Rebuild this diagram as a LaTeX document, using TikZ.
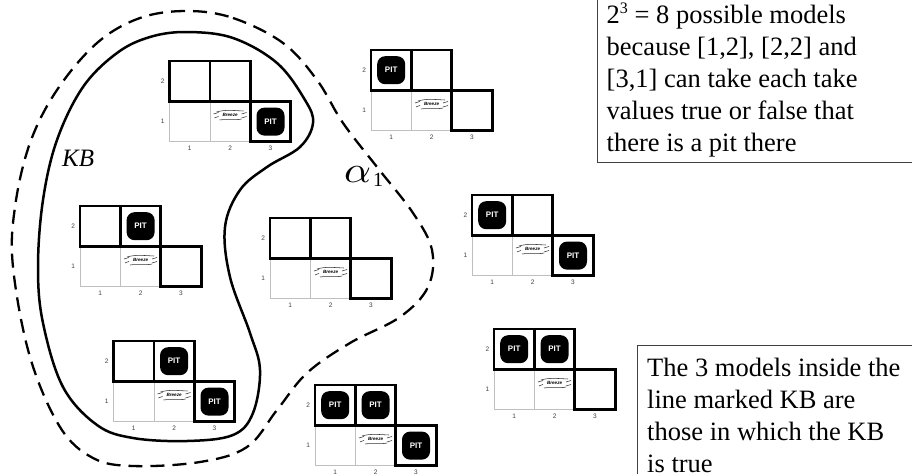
\documentclass[tikz,border=0pt]{standalone}
\usepackage{graphicx}
\usepackage{fontspec}
\setmainfont{Liberation Serif}
\setsansfont{Liberation Sans}
\tikzset{
  x=1pt,y=-1pt,
  thincell/.style={draw=black!25,line width=0.8pt},
  boldcell/.style={draw=black,line width=2.7pt,line join=miter},
  pit/.style={fill=black,rounded corners=8pt,minimum size=28pt,inner sep=0pt,text=white,font=\sffamily\bfseries\fontsize{8}{8}\selectfont},
  axis/.style={inner sep=0pt,text=black!75,font=\sffamily\fontsize{6.5}{6.5}\selectfont},
  breezetxt/.style={inner sep=0pt,font=\sffamily\bfseries\itshape\fontsize{4.6}{5}\selectfont},
  wave/.style={draw=black!80,line width=0.55pt},
  kbline/.style={draw=black,line width=2.5pt},
  alphaline/.style={draw=black,line width=2.3pt,dash pattern=on 14pt off 8pt},
  boxline/.style={draw=black!75,line width=1pt},
  note/.style={inner sep=0pt,anchor=north west,align=left,font=\fontsize{26.5}{32}\selectfont},
}
% #1 name, #2 x, #3 y, #4 pit list
\newcommand{\wumpusworld}[4]{%
\begin{scope}[shift={(#2,#3)},name prefix=#1-]
  \draw[thincell] (0,40.4) rectangle (80.8,80.8) (40.4,40.4) -- (40.4,80.8);
  \foreach \cx/\cy/\cn in {0/0/a,40.4/0/b,80.8/40.4/c}
    \draw[boldcell] (\cx,\cy) rectangle ++(40.4,40.4);
  \foreach \n/\tx/\ty/\tt in {r2/-6.7/20.2/2,r1/-6.7/60.6/1,c1/20.2/87/1,c2/60.6/87/2,c3/101/87/3}
    \node[axis] (\n) at (\tx,\ty) {\tt};
  \node[breezetxt] (br) at (60.6,54) {Breeze};
  \draw[wave] (44,53) .. controls (46,51.5) and (47,53) .. (49,51.5) (45,57) .. controls (46,55.5) and (47,57) .. (49,55.5);
  \draw[wave] (72,53) .. controls (74,51.5) and (75,53) .. (77,51.5) (72,57) .. controls (74,55.5) and (75,57) .. (77,55.5);
  \draw[wave] (47,51) .. controls (55,48.5) and (64,49.5) .. (74,50);
  \draw[wave] (50,59) .. controls (55,58) and (66,59.5) .. (72,58);
  \foreach \p/\px/\py in {#4}
    \node[pit] (\p) at (\px,\py) {PIT};
\end{scope}}
\begin{document}
\begin{tikzpicture}
\useasboundingbox (0,0) rectangle (912,474);
\draw[kbline] plot[smooth cycle,tension=0.6] coordinates {(187,32) (233,38) (277,63) (305,100) (313,123) (300,147) (267,167) (240,190) (225,227) (230,277) (250,333) (260,370) (253,413) (233,435) (187,441) (133,438) (97,425) (63,387) (43,323) (38,267) (43,200) (57,140) (83,87) (117,53) (150,37)};
\draw[alphaline] plot[smooth cycle,tension=0.6] coordinates {(187,11) (233,18) (283,43) (317,80) (343,123) (377,167) (413,213) (432,250) (428,287) (400,317) (350,343) (307,373) (277,410) (247,447) (200,462) (133,466) (93,458) (60,427) (30,357) (13,267) (15,207) (30,143) (57,90) (97,43) (140,18)};
\wumpusworld{wa}{169.5}{61}{p31/101/60.6}
\wumpusworld{wb}{371}{50}{p12/20.2/20.2}
\wumpusworld{wc}{80}{206}{p22/60.6/20.2}
\wumpusworld{wd}{270}{218}{}
\wumpusworld{we}{113.5}{341}{p22/60.6/20.2,p31/101/60.6}
\wumpusworld{wf}{315}{385}{p12/20.2/20.2,p22/60.6/20.2,p31/101/60.6}
\wumpusworld{wg}{472}{195}{p12/20.2/20.2,p31/101/60.6}
\wumpusworld{wh}{494}{329}{p12/20.2/20.2,p22/60.6/20.2}
\node[inner sep=0pt,anchor=base west,font=\itshape\fontsize{25}{25}\selectfont] (kb) at (62,166) {KB};
\node[inner sep=0pt,anchor=base west] (al) at (344,182) {\scalebox{4.2}[3.7]{$\alpha$}\kern2pt\raisebox{-4pt}{\fontsize{20}{20}\selectfont 1}};
\coordinate (b1a) at (597,0);
\coordinate (b1b) at (597,162);
\coordinate (b1c) at (912,162);
\draw[boxline] (b1a) -- (b1b) -- (b1c);
\node[note] (n1) at (606.5,2.5) {2\raisebox{0.38em}{\fontsize{16}{16}\selectfont 3} = 8 possible models\\because [1,2], [2,2] and\\[0pt][3,1] can take each take\\values true or false that\\there is a pit there};
\coordinate (b2a) at (912,345);
\coordinate (b2b) at (637,345);
\coordinate (b2c) at (637,474);
\draw[boxline] (b2a) -- (b2b) -- (b2c);
\node[note] (n2) at (647,358) {The 3 models inside the\\line marked KB are\\those in which the KB\\is true};
\end{tikzpicture}
\end{document}
